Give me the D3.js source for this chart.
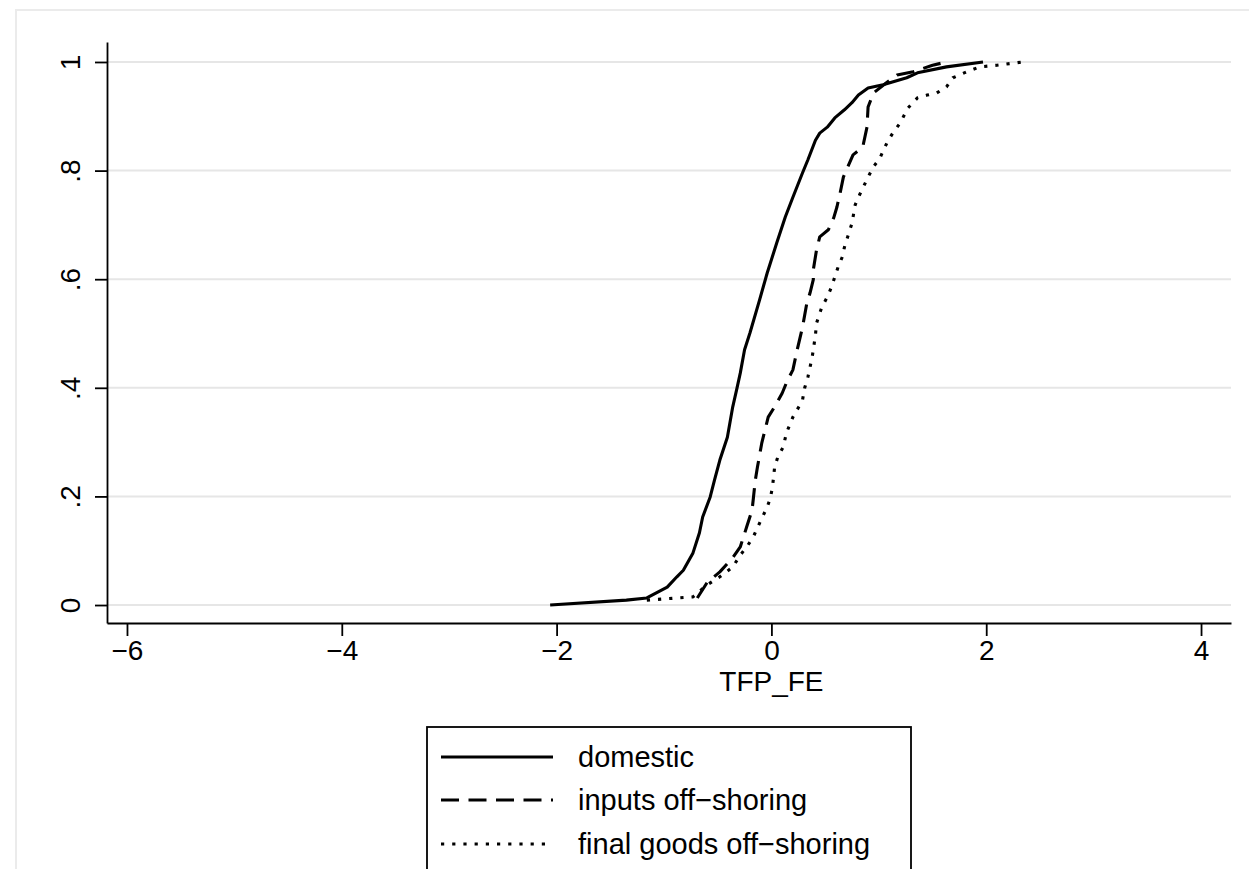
<!DOCTYPE html>
<html>
<head>
<meta charset="utf-8">
<script src="https://cdn.jsdelivr.net/npm/d3@7"></script>
<style>
  body { margin: 0; background: #fff; }
  svg { display: block; font-family: "Liberation Sans", Arial, Helvetica, sans-serif; }
</style>
</head>
<body>
<svg id="chart"></svg>
<script>
// CDF points
const domesticX = [-2.06, -1.35, -1.16, -0.97, -0.88, -0.82, -0.73, -0.67, -0.64, -0.57, -0.53, -0.48, -0.41, -0.36, -0.32, -0.29, -0.25, -0.20, -0.11, -0.04, 0.05, 0.13, 0.20, 0.29, 0.34, 0.41, 0.45, 0.52, 0.59, 0.68, 0.75, 0.81, 0.90, 1.04, 1.26, 1.36, 1.63, 1.97];
const domesticY = [0.000, 0.009, 0.013, 0.033, 0.052, 0.064, 0.096, 0.133, 0.162, 0.199, 0.230, 0.267, 0.309, 0.365, 0.400, 0.427, 0.470, 0.501, 0.562, 0.611, 0.667, 0.715, 0.751, 0.796, 0.820, 0.856, 0.869, 0.880, 0.897, 0.912, 0.925, 0.939, 0.952, 0.958, 0.971, 0.980, 0.991, 1.000];

const inputsX = [-0.69, -0.60, -0.48, -0.36, -0.29, -0.23, -0.18, -0.17, -0.15, -0.13, -0.09, -0.06, -0.03, 0.03, 0.10, 0.15, 0.20, 0.24, 0.29, 0.33, 0.36, 0.39, 0.39, 0.42, 0.45, 0.53, 0.58, 0.61, 0.64, 0.67, 0.76, 0.85, 0.89, 0.90, 0.95, 1.08, 1.17, 1.32, 1.50, 1.63];
const inputsY = [0.013, 0.041, 0.061, 0.087, 0.107, 0.144, 0.175, 0.193, 0.230, 0.254, 0.298, 0.322, 0.346, 0.365, 0.390, 0.414, 0.433, 0.470, 0.512, 0.556, 0.575, 0.599, 0.617, 0.654, 0.678, 0.691, 0.713, 0.733, 0.759, 0.788, 0.829, 0.843, 0.880, 0.917, 0.943, 0.963, 0.976, 0.982, 0.994, 1.000];

const finalX = [-1.16, -0.73, -0.60, -0.48, -0.36, -0.29, -0.23, -0.17, -0.11, -0.04, -0.01, 0.01, 0.03, 0.06, 0.11, 0.14, 0.20, 0.25, 0.29, 0.31, 0.34, 0.38, 0.41, 0.42, 0.47, 0.52, 0.56, 0.59, 0.62, 0.66, 0.68, 0.71, 0.75, 0.78, 0.82, 0.90, 0.95, 1.01, 1.08, 1.13, 1.20, 1.27, 1.36, 1.45, 1.54, 1.63, 1.69, 1.82, 1.94, 2.10, 2.34];
const finalY = [0.009, 0.015, 0.037, 0.052, 0.070, 0.092, 0.107, 0.125, 0.151, 0.180, 0.197, 0.217, 0.254, 0.273, 0.291, 0.317, 0.346, 0.363, 0.378, 0.400, 0.420, 0.457, 0.497, 0.519, 0.549, 0.567, 0.586, 0.604, 0.622, 0.641, 0.659, 0.678, 0.703, 0.737, 0.755, 0.788, 0.807, 0.823, 0.853, 0.869, 0.888, 0.915, 0.934, 0.939, 0.943, 0.954, 0.971, 0.982, 0.991, 0.994, 1.000];

const xTicks = [-6, -4, -2, 0, 2, 4];
const yTicks = [0, 0.2, 0.4, 0.6, 0.8, 1];
const yTickLabels = ["0", ".2", ".4", ".6", ".8", "1"];
const seriesNames = ["domestic", "inputs off\u2212shoring", "final goods off\u2212shoring"];

const W = 1249, H = 869;
const svg = d3.select("#chart").attr("width", W).attr("height", H);

// outer graph frame (light grey)
svg.append("rect")
    .attr("x", 16).attr("y", 10)
    .attr("width", W).attr("height", H)
    .attr("fill", "none")
    .attr("stroke", "#ebebeb")
    .attr("stroke-width", 2);

// scales
const plotL = 107, plotR = 1231, plotT = 42, plotB = 623;
const xScale = d3.scaleLinear().domain([-6.186, 4.279]).range([plotL, plotR]);
const yScale = d3.scaleLinear().domain([-0.0331, 1.0368]).range([plotB, plotT]);

// gridlines
svg.append("g")
    .selectAll("line")
    .data(yTicks)
    .enter()
    .append("line")
    .attr("x1", plotL).attr("x2", plotR)
    .attr("y1", d => yScale(d)).attr("y2", d => yScale(d))
    .attr("stroke", "#e6e6e6")
    .attr("stroke-width", 2);

// lines
const line = d3.line()
    .x(d => xScale(d[0]))
    .y(d => yScale(d[1]));

const series = [
    { pts: d3.zip(domesticX, domesticY), dash: null },
    { pts: d3.zip(inputsX, inputsY), dash: "18,9.5" },
    { pts: d3.zip(finalX, finalY), dash: "3.2,8" }
];

series.forEach(s => {
    svg.append("path")
        .datum(s.pts)
        .attr("fill", "none")
        .attr("stroke", "#000")
        .attr("stroke-width", 3.1)
        .attr("stroke-linejoin", "round")
        .attr("stroke-dasharray", s.dash)
        .attr("d", line);
});

// axes
const xAxis = svg.append("g")
    .attr("transform", `translate(0, ${plotB})`)
    .call(d3.axisBottom(xScale).tickValues(xTicks).tickSize(13).tickSizeOuter(0).tickPadding(4)
        .tickFormat(d => d < 0 ? "\u2212" + Math.abs(d) : String(d)));

const yAxis = svg.append("g")
    .attr("transform", `translate(${plotL}, 0)`)
    .call(d3.axisLeft(yScale).tickValues(yTicks).tickSize(12).tickSizeOuter(0)
        .tickFormat((d, i) => yTickLabels[i]));

[xAxis, yAxis].forEach(a => {
    a.select(".domain").attr("stroke", "#000").attr("stroke-width", 1.8);
    a.selectAll(".tick line").attr("stroke", "#000").attr("stroke-width", 1.8);
    a.selectAll(".tick text").attr("fill", "#000").style("font-size", "28px");
});

yAxis.selectAll(".tick text")
    .attr("x", null).attr("dy", null)
    .attr("text-anchor", "middle")
    .attr("transform", "translate(-27, 0) rotate(-90)");

// axis title
svg.append("text")
    .attr("x", xScale(0))
    .attr("y", 691)
    .attr("text-anchor", "middle")
    .style("font-size", "28px")
    .text("TFP_FE");

// legend
const legend = svg.append("g");
legend.append("rect")
    .attr("x", 427).attr("y", 727)
    .attr("width", 484).attr("height", 180)
    .attr("fill", "#fff")
    .attr("stroke", "#000")
    .attr("stroke-width", 1.8);

const rowY = [757, 800, 844];
series.forEach((s, i) => {
    legend.append("line")
        .attr("x1", 441).attr("x2", 553)
        .attr("y1", rowY[i]).attr("y2", rowY[i])
        .attr("stroke", "#000")
        .attr("stroke-width", 3.1)
        .attr("stroke-dasharray", s.dash);
    legend.append("text")
        .attr("x", 578)
        .attr("y", rowY[i])
        .attr("dy", "0.35em")
        .style("font-size", "29px")
        .text(seriesNames[i]);
});
</script>
</body>
</html>
